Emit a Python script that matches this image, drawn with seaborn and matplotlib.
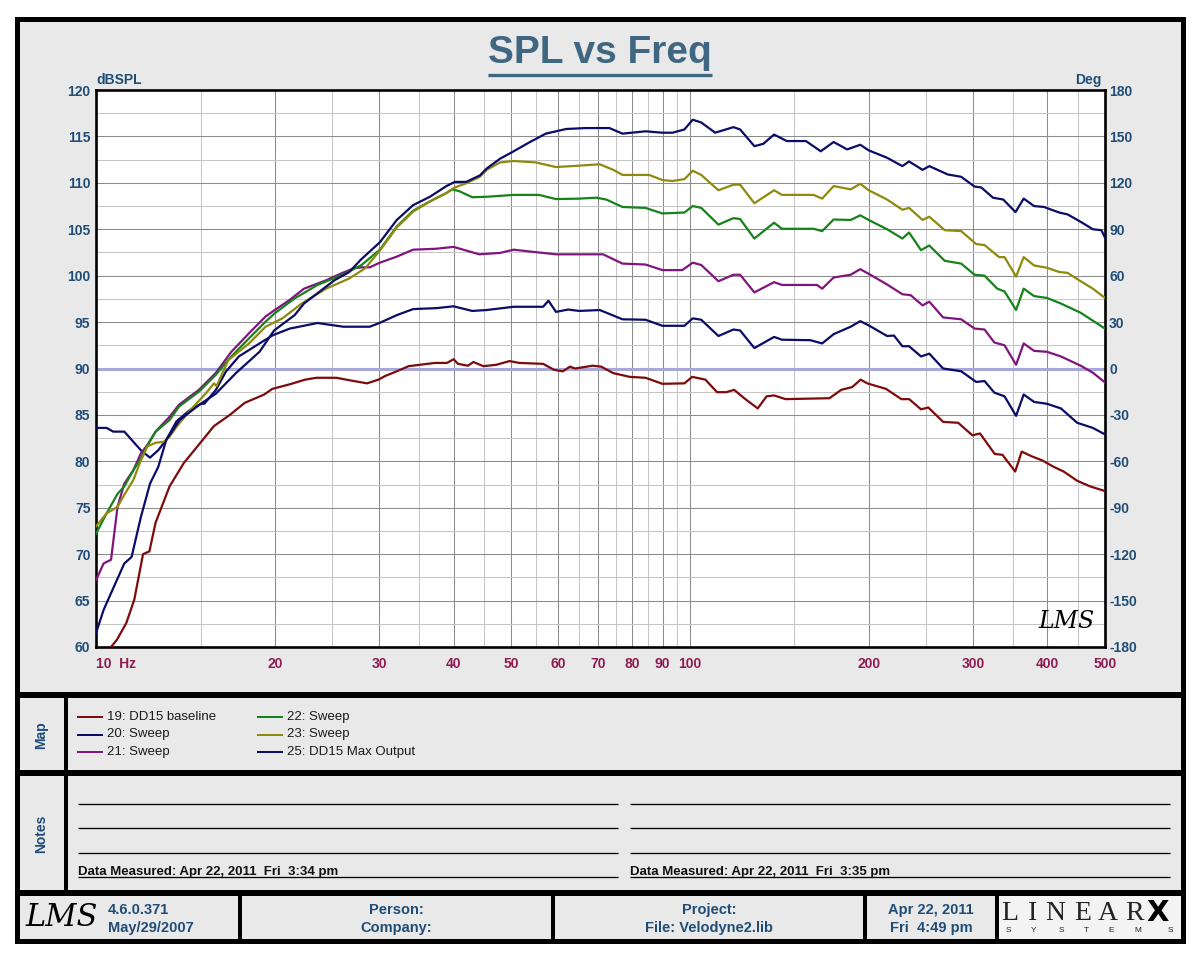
import matplotlib
matplotlib.use("Agg")
import matplotlib.pyplot as plt
import matplotlib.font_manager as fm
from matplotlib.patches import Rectangle
from matplotlib.lines import Line2D
from matplotlib.ticker import NullFormatter
import seaborn as sns

# --- curve data (frequency in Hz, level in dB SPL) ---
f19 = [10.0, 10.6, 10.85, 11.25, 11.6, 12.0, 12.3, 12.6, 13.3, 14.05, 14.9, 15.8, 16.8, 17.8,
       19.2, 19.8, 21.2, 22.5, 23.5, 25.4, 26.9, 28.6, 29.9, 30.7, 32.1, 33.6, 35.1, 37.2, 39.0,
       40.0, 40.7, 42.3, 43.2, 44.9, 47.2, 49.7, 51.6, 56.6, 59.1, 61.1, 62.8, 64.1, 68.6, 70.9,
       74.3, 79.2, 84.2, 89.9, 97.9, 100.9, 106.2, 111.1, 115.2, 118.7, 124.0, 130.1, 134.6,
       138.6, 144.9, 171.8, 179.8, 187.6, 193.9, 198.9, 214, 227, 234, 245, 252, 267, 283, 299,
       308, 326, 336, 353, 362, 376, 392, 410, 426, 449, 472, 500]
spl19 = [58.0, 60.0, 60.8, 62.6, 65.1, 70.0, 70.3, 73.4, 77.3, 79.8, 81.8, 83.8, 85.0, 86.3,
         87.2, 87.8, 88.3, 88.8, 89.0, 89.0, 88.7, 88.4, 88.8, 89.2, 89.7, 90.25, 90.4, 90.6, 90.6,
         91.0, 90.5, 90.3, 90.7, 90.25, 90.4, 90.8, 90.6, 90.5, 89.85, 89.7, 90.2, 90.0, 90.3, 90.2,
         89.5, 89.1, 89.0, 88.35, 88.4, 89.1, 88.8, 87.45, 87.45, 87.7, 86.7, 85.7, 87.0,
         87.1, 86.7, 86.8, 87.7, 88.0, 88.8, 88.4, 87.8, 86.7, 86.7, 85.6, 85.8, 84.25, 84.15, 82.8,
         83.0, 80.8, 80.7, 78.9, 81.05, 80.55, 80.1, 79.4, 78.9, 77.9, 77.3, 76.8]

f20 = [10.0, 10.42, 10.69, 11.16, 11.56, 11.94, 12.33, 12.73, 13.13, 13.66, 14.37, 15.04, 15.22,
       15.92, 16.54, 17.4, 18.85, 19.87, 21.2, 23.6, 26.1, 28.9, 30.0, 32.1, 34.2, 37.4, 40.0,
       43.0, 45.5, 50.5, 56.6, 57.8, 59.5, 62.4, 65.1, 70.5, 77.0, 84.2, 89.9, 97.9, 101.1, 104.5,
       111.7, 118.4, 121.5, 128.4, 138.6, 142.9, 159.5, 167.0, 174.6, 186.5, 193.6, 200, 214.8,
       220.6, 227.9, 233.9, 245, 253, 266.9, 286.3, 303.5, 313.4, 325.6, 338.7, 354.2, 364.8,
       379.8, 399.2, 421.4, 449, 477, 500]
spl20 = [83.6, 83.6, 83.2, 83.2, 82.1, 81.1, 80.4, 81.2, 82.3, 84.3, 85.5, 86.2, 86.2,
         87.7, 89.65, 91.3, 92.7, 93.6, 94.3, 94.9, 94.5, 94.5, 94.9, 95.75, 96.4, 96.5, 96.7,
         96.2, 96.3, 96.65, 96.65, 97.3, 96.1, 96.35, 96.2, 96.3, 95.3, 95.25, 94.6, 94.6, 95.4, 95.25,
         93.5, 94.2, 94.1, 92.2, 93.4, 93.1, 93.05, 92.7, 93.7, 94.5, 95.1, 94.65, 93.5,
         93.55, 92.4, 92.4, 91.3, 91.6, 90.0, 89.7, 88.55, 88.65, 87.4, 87.0, 84.9, 87.2,
         86.4, 86.2, 85.7, 84.15, 83.6, 82.9]

f21 = [10.0, 10.3, 10.6, 10.87, 11.16, 11.56, 11.9, 12.25, 12.6, 13.3, 13.8, 14.9, 15.9, 16.9,
       18.1, 19.3, 20.0, 21.2, 22.4, 24.4, 26.0, 27.2, 28.0, 28.9, 30.06, 32.1, 34.2, 37.4, 40.0,
       44.2, 47.9, 50.5, 53.8, 56.6, 59.5, 65.1, 71.4, 77.0, 84.2, 89.9, 97.1, 101.1, 104.5, 111.7,
       118.4, 121.5, 128.4, 138.6, 142.9, 163.7, 167.0, 174.6, 186.5, 193.6, 200, 214.8, 227.9,
       235.3, 246.5, 253.0, 266.9, 286.3, 301.5, 313.4, 325.6, 338.7, 354.2, 364.8, 379.8, 399.2,
       421.4, 455, 477, 500]
spl21 = [67.2, 69.0, 69.4, 75.1, 77.6, 79.05, 80.85, 81.9, 83.2, 84.8, 86.1, 87.7, 89.5, 91.8,
         93.8, 95.6, 96.3, 97.4, 98.6, 99.5, 100.3, 100.8, 100.9, 100.9, 101.4, 102.05, 102.8, 102.9,
         103.1, 102.3, 102.45, 102.8, 102.6, 102.45, 102.3, 102.3, 102.3, 101.3, 101.2, 100.6, 100.6,
         101.4, 101.15, 99.4, 100.1, 100.1, 98.2, 99.3, 99.0, 99.0, 98.6, 99.8, 100.1, 100.7, 100.2,
         99.05, 98.0, 97.9, 96.8, 97.2, 95.5, 95.3, 94.3, 94.2, 92.8, 92.5, 90.4, 92.7, 91.9, 91.8,
         91.3, 90.3, 89.55, 88.5]

f22 = [10.0, 10.42, 10.87, 11.16, 11.56, 11.9, 12.25, 12.6, 13.3, 13.8, 14.9, 15.9, 16.9, 18.1,
       19.3, 20.0, 21.6, 23.6, 26.0, 28.0, 30.06, 32.1, 34.2, 36.5, 38.9, 39.8, 40.9, 43.0, 45.5,
       50.5, 55.7, 59.5, 65.1, 69.6, 72.3, 77.0, 84.2, 89.9, 97.9, 101.1, 104.5, 111.7, 118.4,
       121.5, 128.4, 138.6, 142.9, 161.6, 167.0, 174.6, 186.5, 193.6, 200, 214.8, 227.9, 233.9,
       245, 253, 268.6, 286.3, 301.5, 313.4, 329.3, 338.7, 354.2, 364.8, 379.8, 399.2, 421.4, 455, 500]
spl22 = [72.2, 74.4, 76.5, 77.3, 79.05, 80.3, 81.9, 83.2, 84.45, 85.9, 87.5, 89.3, 91.3, 93.25,
         95.05, 95.95, 97.55, 99.0, 100.1, 101.15, 102.8, 105.3, 107.0, 108.0, 108.9, 109.3, 109.1,
         108.45, 108.5, 108.7, 108.7, 108.25, 108.3, 108.4, 108.2, 107.4, 107.3, 106.7, 106.8, 107.5,
         107.3, 105.5, 106.2, 106.1, 104.0, 105.7, 105.05, 105.05, 104.8, 106.05, 106.0, 106.5, 106.0,
         105.0, 104.0, 104.65, 102.75, 103.25, 101.6, 101.3, 100.1, 100.0, 98.6, 98.3, 96.3, 98.6,
         97.8, 97.6, 97.0, 96.0, 94.3]

f23 = [10.0, 10.42, 10.87, 11.16, 11.56, 11.9, 12.2, 12.6, 13.0, 13.3, 13.66, 14.4, 15.3, 15.8,
       15.96, 16.7, 18.1, 19.3, 20.6, 22.2, 24.4, 26.7, 28.4, 30.06, 32.1, 34.2, 36.5, 38.9, 40.2,
       42.0, 44.3, 45.5, 47.9, 50.5, 55.0, 59.5, 65.1, 70.5, 74.3, 77.0, 85.4, 89.9, 93.5, 97.9,
       101.1, 104.5, 111.7, 118.4, 121.5, 128.4, 138.6, 142.9, 161.6, 167.0, 174.6, 186.5, 193.6,
       200, 214.8, 227.9, 233.9, 246.5, 253.0, 268.6, 286.3, 303.5, 313.4, 331.6, 338.7, 354.2,
       364.8, 379.8, 399.2, 418.7, 432.5, 455, 477, 500]
spl23 = [73.0, 74.4, 75.1, 76.4, 78.0, 80.1, 81.6, 82.0, 82.1, 82.65, 83.7, 85.5, 87.3, 88.4,
         88.1, 90.9, 92.7, 94.5, 95.4, 97.0, 98.6, 99.7, 100.8, 102.7, 105.2, 106.9, 108.0, 108.9,
         109.5, 109.95, 110.65, 111.4, 112.2, 112.35, 112.2, 111.7, 111.85, 112.0, 111.4, 110.85,
         110.85, 110.3, 110.2, 110.4, 111.3, 110.85, 109.2, 109.8, 109.8, 107.8, 109.2, 108.7, 108.7,
         108.3, 109.65, 109.3, 109.9, 109.2, 108.2, 107.1, 107.3, 106.0, 106.35, 104.9, 104.8, 103.4,
         103.3, 102.0, 102.0, 99.9, 102.0, 101.1, 100.85, 100.4, 100.3, 99.4, 98.6, 97.6]

f25 = [10.0, 10.3, 10.6, 11.16, 11.48, 11.9, 12.33, 12.73, 13.13, 13.83, 14.93, 15.92, 17.2, 18.85,
       19.95, 21.6, 22.4, 25.2, 26.7, 27.9, 28.9, 30.06, 32.1, 34.2, 36.5, 38.9, 40.2, 42.0, 44.3,
       45.5, 47.9, 50.5, 53.8, 57.2, 61.9, 66.8, 73.2, 77.0, 84.2, 89.9, 93.5, 97.9, 101.1, 104.5,
       110.3, 118.4, 121.5, 128.4, 132.9, 138.6, 145.6, 156.8, 166.1, 174.6, 184.0, 193.6, 200,
       214.8, 227.9, 233.9, 246.5, 253.0, 271.8, 286.3, 301.5, 309.5, 323.9, 337, 353.4, 364.8,
       379.8, 394.6, 418.7, 432.5, 455, 477, 493, 500]
spl25 = [61.5, 64.0, 65.8, 69.0, 69.7, 74.0, 77.6, 79.4, 82.3, 84.45, 86.1, 87.3, 89.5, 91.8,
         94.1, 95.75, 97.0, 99.5, 100.4, 101.7, 102.6, 103.6, 106.0, 107.6, 108.5, 109.65, 110.1,
         110.1, 110.8, 111.55, 112.6, 113.4, 114.4, 115.3, 115.8, 115.9, 115.9, 115.3, 115.55, 115.4,
         115.4, 115.75, 116.8, 116.5, 115.4, 116.0, 115.75, 113.95, 114.2, 115.2, 114.5, 114.5, 113.4,
         114.4, 113.6, 114.1, 113.5, 112.7, 111.8, 112.3, 111.4, 111.8, 110.9, 110.65, 109.6, 109.5,
         108.4, 108.2, 106.85, 108.3, 107.5, 107.4, 106.8, 106.6, 105.8, 105.0, 104.9, 104.1]

freqs = [f19, f20, f21, f22, f23, f25]
levels = [spl19, spl20, spl21, spl22, spl23, spl25]
labels = ["19: DD15 baseline", "20: Sweep", "21: Sweep", "22: Sweep", "23: Sweep", "25: DD15 Max Output"]
colors = ["#7d0b0b", "#0b0b68", "#80157f", "#16821a", "#8e8a0e", "#0b0b68"]

x_ticks = [10, 20, 30, 40, 50, 60, 70, 80, 90, 100, 200, 300, 400, 500]
x_minor = [15, 25, 35, 45, 55, 65, 75, 85, 95, 150, 250, 350, 450]
y_ticks = list(range(60, 121, 5))
y_minor = [v + 2.5 for v in range(60, 120, 5)]
deg_ticks = list(range(-180, 181, 30))

# --- fonts ---
plt.rcParams["axes.unicode_minus"] = False
names = {f.name for f in fm.fontManager.ttflist}
NARROW = "Liberation Sans Narrow" if "Liberation Sans Narrow" in names else "Liberation Sans"
SANS = "Liberation Sans"
BLUE = "#1f4d78"
HZ_RED = "#8e1b52"

W, H = 1200, 960
fig = plt.figure(figsize=(12, 9.6), dpi=100, facecolor="white")


def fx(x):
    return x / W


def fy(y):
    return 1 - y / H


def hline(y, x0, x1, px, color="black"):
    fig.add_artist(Line2D([fx(x0), fx(x1)], [fy(y), fy(y)], lw=px * 0.72, color=color,
                          solid_capstyle="butt", transform=fig.transFigure))


def vline(x, y0, y1, px, color="black"):
    fig.add_artist(Line2D([fx(x), fx(x)], [fy(y0), fy(y1)], lw=px * 0.72, color=color,
                          solid_capstyle="butt", transform=fig.transFigure))


def text(x, y, s, **kw):
    return fig.text(fx(x), fy(y), s, **kw)


# frame and panels
fig.add_artist(Rectangle((fx(17), fy(941)), fx(1183) - fx(17), fy(19) - fy(941),
                         transform=fig.transFigure, facecolor="#e9e9e9", edgecolor="black",
                         lw=5 * 0.72, zorder=-10))
fig.add_artist(Rectangle((fx(998), fy(939)), fx(1181) - fx(998), fy(895) - fy(939),
                         transform=fig.transFigure, facecolor="#f3f3f3", edgecolor="none", zorder=-9))
for yy in [695, 773, 893]:
    hline(yy, 17, 1183, 6)
vline(66, 695, 893, 4)
for xx in [240, 553, 865, 997]:
    vline(xx, 893, 941, 4)

# --- main chart ---
ax = fig.add_axes([fx(96), fy(647), fx(1105) - fx(96), fy(90) - fy(647)])
ax.set_facecolor("white")
ax.set_xscale("log")

for f, s, c in zip(freqs, levels, colors):
    sns.lineplot(x=f, y=s, ax=ax, color=c, lw=1.6, estimator=None, sort=False, zorder=3)

ax.axhline(90, color="#a8a8d8", lw=2.2, zorder=2)

ax.set_xlim(10, 500)
ax.set_ylim(60, 120)
ax.set_xticks(x_ticks)
ax.set_xticks(x_minor, minor=True)
ax.xaxis.set_minor_formatter(NullFormatter())
ax.set_xticklabels(["10  Hz"] + [str(v) for v in x_ticks[1:]])
ax.set_yticks(y_ticks)
ax.set_yticks(y_minor, minor=True)
ax.grid(which="major", color="#8c8c8c", lw=0.75)
ax.grid(which="minor", color="#c6c6c6", lw=0.75)
ax.set_axisbelow(True)
ax.set_xlabel("")
ax.set_ylabel("")
for sp in ax.spines.values():
    sp.set_linewidth(1.9)
    sp.set_color("black")
ax.tick_params(which="both", length=0)
ax.tick_params(axis="x", pad=7, labelcolor=HZ_RED, labelsize=10, labelfontfamily=NARROW)
ax.tick_params(axis="y", pad=4, labelcolor=BLUE, labelsize=10, labelfontfamily=NARROW)
for lbl in ax.get_xticklabels() + ax.get_yticklabels():
    lbl.set_fontweight("bold")
ax.get_xticklabels()[0].set_horizontalalignment("left")

ax2 = ax.twinx()
ax2.set_ylim(-180, 180)
ax2.set_yticks(deg_ticks)
ax2.tick_params(length=0, pad=3, labelcolor=BLUE, labelsize=10, labelfontfamily=NARROW)
for lbl in ax2.get_yticklabels():
    lbl.set_fontweight("bold")
for sp in ax2.spines.values():
    sp.set_visible(False)

ax.text(0.0, 1.005, "dBSPL", transform=ax.transAxes, ha="left", va="bottom", fontsize=10,
        fontweight="bold", family=NARROW, color=BLUE)
ax.text(0.997, 1.005, "Deg", transform=ax.transAxes, ha="right", va="bottom", fontsize=10,
        fontweight="bold", family=NARROW, color=BLUE)
ax.text(0.962, 0.045, "LMS", transform=ax.transAxes, ha="center", va="center", fontsize=17,
        style="italic", family="DejaVu Serif", color="black")

# title with underline
title = text(600, 53, "SPL vs Freq", ha="center", va="center", fontsize=28, fontweight="bold",
             family=SANS, color="#3f6782")
fig.canvas.draw()
bb = title.get_window_extent()
hline(74.5, bb.x0, bb.x1, 3.3, color="#3f6782")

# --- map panel (legend) ---
text(41.5, 735, "Map", rotation=90, ha="center", va="center", fontsize=10, fontweight="bold",
     family=SANS, color=BLUE)
rows = [717, 734.5, 752]
for i, (lab, c) in enumerate(zip(labels, colors)):
    x0 = 77 if i < 3 else 257
    y = rows[i % 3]
    hline(y, x0, x0 + 26, 2, color=c)
    text(x0 + 30, y, lab, ha="left", va="center", fontsize=9.5, family=SANS, color="#1a1a1a")

# --- notes panel ---
text(41.5, 834, "Notes", rotation=90, ha="center", va="center", fontsize=10, fontweight="bold",
     family=SANS, color=BLUE)
for x0, x1 in [(78, 618), (630, 1170)]:
    for yy in [804, 828, 852.5, 877]:
        hline(yy, x0, x1, 1.3)
text(78, 875, "Data Measured: Apr 22, 2011  Fri  3:34 pm", ha="left", va="baseline", fontsize=9.5,
     fontweight="bold", family=NARROW, color="#111111")
text(630, 875, "Data Measured: Apr 22, 2011  Fri  3:35 pm", ha="left", va="baseline", fontsize=9.5,
     fontweight="bold", family=NARROW, color="#111111")

# --- footer ---
foot = dict(fontsize=10.5, fontweight="bold", family=NARROW, color=BLUE, va="center")
text(62, 918, "LMS", ha="center", va="center", fontsize=22, style="italic", family="DejaVu Serif",
     color="black")
text(108, 910, "4.6.0.371", ha="left", **foot)
text(108, 928, "May/29/2007", ha="left", **foot)
text(396, 910, "Person:", ha="center", **foot)
text(396, 928, "Company:", ha="center", **foot)
text(709, 910, "Project:", ha="center", **foot)
text(709, 928, "File: Velodyne2.lib", ha="center", **foot)
text(931, 910, "Apr 22, 2011", ha="center", **foot)
text(931, 928, "Fri  4:49 pm", ha="center", **foot)

for ch, xx in zip("LINEAR", [1010, 1033, 1055, 1083, 1108, 1135]):
    text(xx, 913, ch, ha="center", va="center", fontsize=20, family="Liberation Serif", color="#222222")
text(1158, 913, "X", ha="center", va="center", fontsize=21, fontweight="heavy", family="DejaVu Sans",
     color="black")
for ch, xx in zip("SYSTEMS", [1008, 1034, 1061, 1086, 1111, 1138, 1170]):
    text(xx, 930, ch, ha="center", va="center", fontsize=6, family=SANS, color="#222222")

fig.savefig("out.png", dpi=100, facecolor="white")
